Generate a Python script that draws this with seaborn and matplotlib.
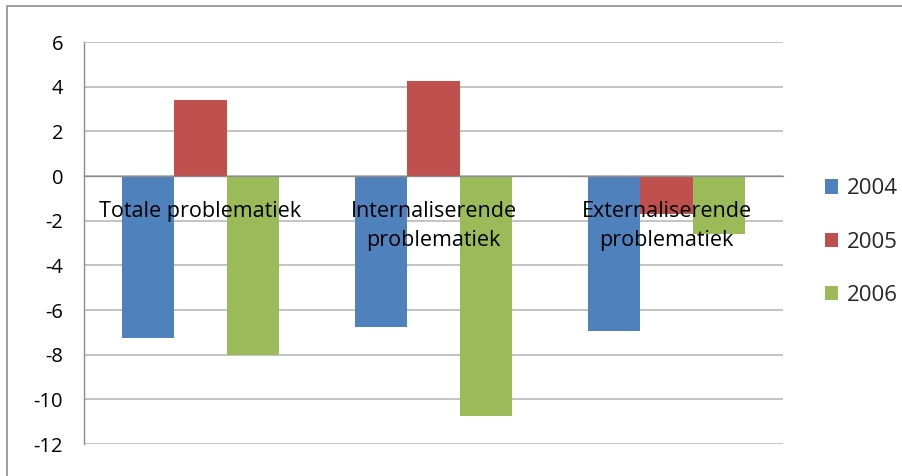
import matplotlib
matplotlib.use("Agg")
import matplotlib.pyplot as plt
import matplotlib.transforms as mtransforms
from matplotlib.patches import Rectangle
import seaborn as sns
import pandas as pd

categories = ["Totale problematiek", "Internaliserende\nproblematiek", "Externaliserende\nproblematiek"]
years = ["2004", "2005", "2006"]
values_2004 = [-7.25, -6.75, -6.95]
values_2005 = [3.4, 4.25, -1.7]
values_2006 = [-8.0, -10.75, -2.6]
colors = ["#4F81BD", "#C0504D", "#9BBB59"]
y_ticks = [6, 4, 2, 0, -2, -4, -6, -8, -10, -12]

rows = []
for year, vals in zip(years, [values_2004, values_2005, values_2006]):
    for cat, v in zip(categories, vals):
        rows.append({"cat": cat, "year": year, "value": v})
df = pd.DataFrame(rows)

sns.set_theme(style="white")
plt.rcParams["font.family"] = ["Open Sans", "DejaVu Sans"]

fig = plt.figure(figsize=(9.02, 4.76), dpi=100)
ax = fig.add_axes([84 / 902, 1 - 444 / 476, (783 - 84) / 902, (444 - 42) / 476])

sns.barplot(data=df, x="cat", y="value", hue="year", palette=colors,
            width=0.675, gap=0, saturation=1, ax=ax, legend=False, zorder=2,
            linewidth=0, edgecolor="none")

ax.set_ylim(-12, 6)
ax.set_xlim(-0.5, len(categories) - 0.5)
ax.set_yticks(y_ticks)
ax.set_yticklabels([str(t) for t in y_ticks], fontsize=14.5)
ax.set_xlabel("")
ax.set_ylabel("")

gray = "#8c8c8c"
ax.set_axisbelow(True)
ax.yaxis.grid(True, color="#b3b3b3", linewidth=1.1)
ax.xaxis.grid(False)
for s in ["top", "right"]:
    ax.spines[s].set_visible(False)
ax.spines["left"].set_color(gray)
ax.spines["left"].set_linewidth(1)
ax.spines["bottom"].set_position(("data", 0))
ax.spines["bottom"].set_color(gray)
ax.spines["bottom"].set_linewidth(1)

ax.tick_params(axis="y", which="major", direction="out", length=5, width=1, color=gray, pad=10, labelcolor="black")
ax.set_xticks(range(len(categories)))
ax.set_xticklabels([])
ax.tick_params(axis="x", which="major", length=0)
ax.set_xticks([i - 0.5 for i in range(len(categories) + 1)], minor=True)
ax.tick_params(axis="x", which="minor", direction="out", length=4.5, width=1, color="#a6a6a6")

offset = mtransforms.ScaledTranslation(0, -18 / 72, fig.dpi_scale_trans)
for i, cat in enumerate(categories):
    ax.text(i, 0, cat, transform=ax.transData + offset, ha="center", va="top",
            fontsize=15.5, linespacing=1.5, zorder=10, color="black")

handles = [Rectangle((0, 0), 1, 1, facecolor=c, edgecolor="none") for c in colors]
fig.legend(handles, years, loc="center left", bbox_to_anchor=(825 / 902, 1 - 242 / 476),
           frameon=False, fontsize=16, handlelength=0.6, handleheight=0.6,
           handletextpad=0.4, labelspacing=1.45, borderpad=0, borderaxespad=0)

border = Rectangle((7 / 902, -0.02), 1.0, 1 - 6 / 476 + 0.02, transform=fig.transFigure,
                   fill=False, edgecolor=gray, linewidth=1.2)
fig.patches.append(border)

fig.savefig("out.png", dpi=100)
